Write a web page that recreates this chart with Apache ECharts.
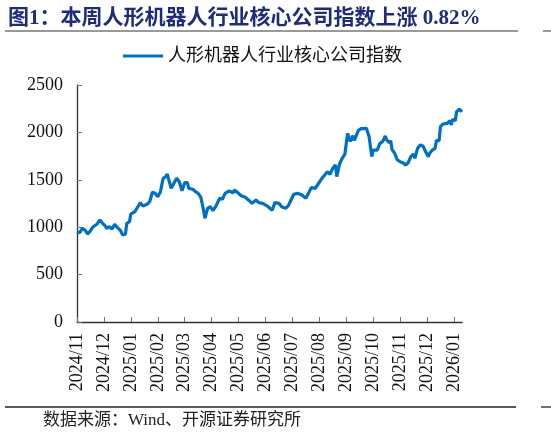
<!DOCTYPE html>
<html lang="zh-CN">
<head>
	<meta charset="UTF-8">
	<title>人形机器人行业核心公司指数</title>
	<script src="https://cdn.jsdelivr.net/npm/echarts@6/dist/echarts.min.js"></script>
	<style>
		html,body{margin:0;padding:0;width:100%;height:100%;background:#fff;}
		#chart{width:551px;height:436px;}
	</style>
</head>
<body>
	<div id="chart"></div>
<script>
	// 横轴标签：每 20 个交易日一个
	var tickLabels = ['2024/11', '2024/12', '2025/01', '2025/02', '2025/03', '2025/04', '2025/05',
		'2025/06', '2025/07', '2025/08', '2025/09', '2025/10', '2025/11', '2025/12', '2026/01'];
	var tickStep = 20;
	var lastDay = 286;

	// 交易日序号（从 2024/11 第一个点起算）
	var dayIndex = [0, 2, 4, 6, 8, 10, 12, 15, 17, 19, 21, 22, 24, 26, 28, 30, 32, 34, 36, 37, 39,
		40, 43, 46, 47, 49, 52, 54, 56, 58, 60, 62, 64, 66, 67, 68, 70, 72, 74, 76, 78,
		80, 82, 83, 86, 88, 90, 92, 94, 95, 97, 99, 101, 103, 106, 108, 110, 113, 116, 117,
		120, 122, 125, 128, 130, 133, 135, 138, 140, 142, 143, 145, 147, 150, 152, 155, 157, 159,
		161, 164, 167, 170, 172, 174, 177, 179, 182, 184, 186, 188, 190, 192, 193, 195, 197, 199,
		201, 203, 205, 206, 209, 211, 215, 217, 219, 220, 223, 225, 227, 229, 230, 232, 233, 234,
		236, 238, 240, 242, 244, 246, 248, 250, 251, 253, 255, 257, 259, 261, 262, 264, 266, 267,
		269, 270, 272, 275, 277, 278, 279, 281, 282, 284, 286];
	// 人形机器人行业核心公司指数
	var indexValues = [952, 942, 988, 970, 928, 963, 1005, 1034, 1076, 1041, 1013, 988, 1005, 981, 1030, 995, 970, 918, 928, 1041, 1058,
		1139, 1164, 1234, 1259, 1224, 1241, 1269, 1368, 1357, 1322, 1375, 1516, 1533, 1561, 1568, 1410, 1463, 1516, 1480, 1385,
		1470, 1470, 1410, 1400, 1375, 1357, 1315, 1181, 1094, 1199, 1216, 1174, 1216, 1305, 1294, 1357, 1382, 1364, 1392,
		1357, 1332, 1315, 1280, 1252, 1287, 1259, 1252, 1234, 1216, 1199, 1178, 1259, 1252, 1216, 1199, 1227, 1287,
		1347, 1357, 1340, 1305, 1357, 1417, 1410, 1453, 1516, 1551, 1585, 1558, 1621, 1656, 1533, 1664, 1727, 1770,
		1990, 1905, 1965, 1915, 2020, 2040, 2043, 1955, 1745, 1814, 1814, 1885, 1902, 1962, 1920, 1891, 1913, 1822,
		1779, 1709, 1691, 1680, 1656, 1680, 1744, 1772, 1727, 1832, 1867, 1857, 1796, 1744, 1779, 1814, 1832, 1913,
		1913, 2060, 2089, 2096, 2124, 2078, 2138, 2124, 2218, 2244, 2218];

	var serif = '"Liberation Serif", "Times New Roman", "Noto Sans CJK SC", serif';

	function chart () {
		var lineData = [];
		for (var i = 0; i < dayIndex.length; i++) {
			lineData.push([dayIndex[i], indexValues[i]]);
		}
		var tickPos = [];
		for (var j = 0; j < tickLabels.length; j++) {
			tickPos.push(j * tickStep);
		}

		var myChart = echarts.init(document.getElementById('chart'), null, {renderer: 'canvas'});
		var options = {
			animation: false,
			title: {
				text: '图1：本周人形机器人行业核心公司指数上涨 0.82%',
				left: 3,
				top: 3,
				textStyle: {fontSize: 21, fontWeight: 'bold', color: '#1E2C7A', fontFamily: serif}
			},
			legend: {
				left: 118,
				top: 42,
				icon: 'rect',
				itemWidth: 40,
				itemHeight: 3,
				textStyle: {fontSize: 18, color: '#111', fontFamily: serif},
				data: ['人形机器人行业核心公司指数']
			},
			graphic: [
				{type: 'line', shape: {x1: 5, y1: 31, x2: 518, y2: 31}, style: {stroke: '#777', lineWidth: 1.5}},
				{type: 'line', shape: {x1: 543, y1: 31, x2: 551, y2: 31}, style: {stroke: '#777', lineWidth: 1.5}},
				{type: 'line', shape: {x1: 5, y1: 407, x2: 516, y2: 407}, style: {stroke: '#222', lineWidth: 1.3}},
				{type: 'line', shape: {x1: 541, y1: 407, x2: 551, y2: 407}, style: {stroke: '#222', lineWidth: 1.3}},
				{
					type: 'text', left: 43, top: 412,
					style: {text: '数据来源：Wind、开源证券研究所', fontSize: 17, fill: '#222', fontFamily: serif}
				}
			],
			grid: {
				left: 77,
				right: 89,
				top: 85,
				bottom: 114
			},
			xAxis: {
				type: 'value',
				min: 0,
				max: lastDay,
				splitLine: {show: false},
				axisLine: {show: true, lineStyle: {color: '#333', width: 1.3}},
				axisTick: {show: true, inside: true, length: 5, customValues: tickPos, lineStyle: {color: '#777'}},
				axisLabel: {
					customValues: tickPos,
					rotate: 90,
					margin: 11,
					fontSize: 18,
					color: '#111',
					fontFamily: serif,
					formatter: function (v) {
						return tickLabels[Math.round(v / tickStep)] || '';
					}
				}
			},
			yAxis: {
				type: 'value',
				min: 0,
				max: 2500,
				interval: 500,
				splitLine: {show: false},
				axisLine: {show: true, lineStyle: {color: '#333', width: 1.3}},
				axisTick: {show: true, inside: true, length: 5, lineStyle: {color: '#777'}},
				axisLabel: {
					margin: 14, fontSize: 18, color: '#111', fontFamily: serif,
					formatter: function (v) { return String(v); }
				}
			},
			series: [{
				name: '人形机器人行业核心公司指数',
				type: 'line',
				showSymbol: false,
				symbol: 'none',
				lineStyle: {width: 3.2, color: '#0070C0'},
				itemStyle: {color: '#0070C0'},
				data: lineData
			}]
		};
		myChart.setOption(options);
	}

	chart();
</script>
</body>
</html>
